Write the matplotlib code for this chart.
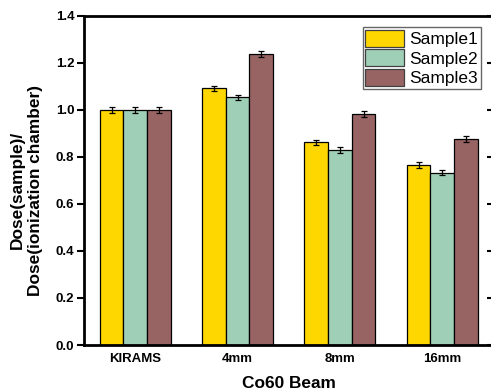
#!/usr/bin/env python3
import matplotlib
matplotlib.use("Agg")
import matplotlib.pyplot as plt
import numpy as np

categories = ["KIRAMS", "4mm", "8mm", "16mm"]
series_names = ["Sample1", "Sample2", "Sample3"]
sample1 = [1.000, 1.091, 0.862, 0.765]
sample2 = [1.000, 1.053, 0.829, 0.733]
sample3 = [1.000, 1.237, 0.981, 0.876]
err1 = [0.013, 0.012, 0.011, 0.011]
err2 = [0.013, 0.011, 0.011, 0.011]
err3 = [0.012, 0.012, 0.012, 0.012]
colors = ["#FFD700", "#9FCFB6", "#976363"]

plt.rcParams["font.family"] = ["Liberation Sans", "DejaVu Sans"]

W, H = 491, 391
fig = plt.figure(figsize=(W / 100, H / 100), dpi=100)
ax = fig.add_axes([84 / W, 46 / H, (493.5 - 84) / W, (345 - 15.7) / H])

x = np.arange(1, len(categories) + 1)
width = 0.231
values = [sample1, sample2, sample3]
errors = [err1, err2, err3]
for i, (vals, errs) in enumerate(zip(values, errors)):
    ax.bar(x + (i - 1) * width, vals, width=width, color=colors[i],
           edgecolor="black", linewidth=0.9, label=series_names[i],
           yerr=errs, capsize=2.4,
           error_kw=dict(elinewidth=0.9, capthick=0.9, ecolor="black"))

ax.set_xlim(0.5, 4.5)
ax.set_ylim(0, 1.4)
yt = np.arange(0, 1.41, 0.2)
ax.set_yticks(yt)
ax.set_yticklabels([f"{v:.1f}" for v in yt], fontsize=9.5, fontweight="bold")
ax.set_xticks(x)
ax.set_xticklabels(categories, fontsize=9.5, fontweight="bold")
ax.tick_params(axis="x", length=0, pad=5.5)
ax.tick_params(axis="y", which="both", direction="out", length=5, width=1.5,
               pad=2)
ax.tick_params(axis="y", right=True, labelright=False)
for t in ax.yaxis.get_ticklines()[1::2]:
    t.set_marker(matplotlib.lines.TICKLEFT)
for sp in ax.spines.values():
    sp.set_linewidth(2.0)

ax.set_xlabel("Co60 Beam", fontsize=12.4, fontweight="bold", labelpad=8.5)
ax.set_ylabel("Dose(sample)/\nDose(ionization chamber)", fontsize=12.4,
              fontweight="bold", linespacing=1.3)
ax.yaxis.set_label_coords(-0.1, 0.47)

leg = ax.legend(loc="upper right", bbox_to_anchor=(481 / W, 1 - 27 / H),
                bbox_transform=fig.transFigure, fontsize=12.5, frameon=True,
                fancybox=False, borderaxespad=0, borderpad=0.15,
                handlelength=2.25, handleheight=1.15, labelspacing=0.12,
                handletextpad=0.3)
leg.get_frame().set_edgecolor("#404040")
leg.get_frame().set_linewidth(1.0)
for p in leg.get_patches():
    p.set_edgecolor("#404040")

fig.savefig("out.png", dpi=100)
